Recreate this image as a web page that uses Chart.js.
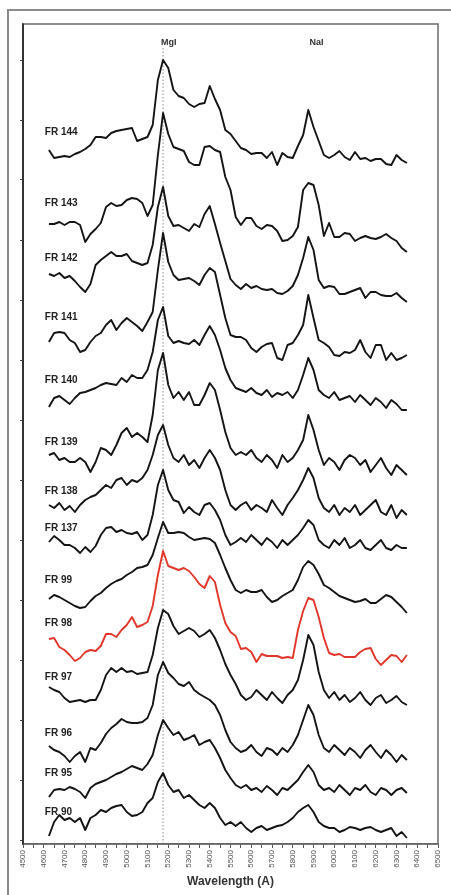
<!DOCTYPE html>
<html>
<head>
<meta charset="utf-8">
<script src="https://cdn.jsdelivr.net/npm/chart.js@4.4.0/dist/chart.umd.min.js"></script>
<style>
  html, body { margin: 0; padding: 0; background: #fff; overflow: hidden; }
  #marco { position: absolute; left: 7px; top: 9px; width: 470px; height: 910px; border: 2px solid #8a8a8a; box-sizing: border-box; }
  #contenedor { position: absolute; left: 0; top: 0; width: 451px; height: 895px; }
</style>
</head>
<body>
<div id="marco"></div>
<div id="contenedor"><canvas id="chartEspectros" width="451" height="895"></canvas></div>
<script>
// Longitudes de onda (Å) comunes a todos los espectros
const longitudes = [4625,4650,4675,4700,4725,4750,4775,4800,4825,4850,4875,4900,4925,4950,4975,5000,5025,5050,5075,5100,5125,5150,5175,5200,5225,5250,5275,5300,5325,5350,5375,5400,5425,5450,5475,5500,5525,5550,5575,5600,5625,5650,5675,5700,5725,5750,5775,5800,5825,5850,5875,5900,5925,5950,5975,6000,6025,6050,6075,6100,6125,6150,6175,6200,6225,6250,6275,6300,6325,6350];

// Flujo (unidades arbitrarias, ya desplazado) de cada espectro
const fr144 = [690,682,683,684,683,686,688,691,695,703,703,702,707,709,710,711,712,699,701,703,715,760,780,772,750,744,742,736,733,736,737,754,741,730,710,706,699,692,690,686,687,687,682,688,675,687,683,682,694,705,730,713,699,685,682,685,689,683,680,688,681,682,679,681,681,676,675,685,680,677];
const fr143 = [616,616,618,615,618,618,615,598,606,611,617,633,637,634,635,640,642,641,637,624,635,685,727,706,693,691,689,678,675,675,693,694,690,688,663,650,623,615,622,622,614,611,615,614,609,599,600,604,613,650,657,655,635,604,617,603,603,607,606,599,602,604,602,601,603,606,602,599,592,588];
const fr142 = [566,564,567,562,564,559,553,548,556,575,580,584,588,584,584,586,579,577,575,577,595,633,653,624,614,615,612,609,616,613,626,634,616,597,579,561,555,551,556,552,554,551,550,551,547,546,549,554,565,582,603,590,560,552,554,553,546,546,548,550,552,542,548,548,545,544,544,547,542,538];
const fr141 = [498,507,508,507,500,497,488,490,498,504,507,515,520,510,517,522,518,514,509,518,528,570,607,578,565,560,561,562,559,555,565,572,568,545,522,505,503,503,500,492,488,493,496,497,482,480,495,497,505,515,545,522,500,497,493,485,484,488,487,490,500,488,482,495,495,480,487,480,482,485];
const fr140 = [433,442,444,440,436,442,447,448,450,452,455,457,456,455,462,458,465,462,462,470,488,520,533,504,497,499,497,496,500,495,505,514,505,490,472,460,452,450,448,452,447,445,450,443,447,445,448,442,450,465,482,470,450,445,442,448,440,442,444,438,445,440,435,442,438,432,440,436,430,430];
const fr139 = [385,387,380,382,378,378,382,378,368,378,392,390,385,395,407,412,403,407,403,398,425,470,487,455,442,448,440,448,435,435,445,457,450,430,408,392,385,388,385,390,382,378,385,380,372,385,378,382,390,400,425,410,390,375,382,378,370,380,385,382,375,380,368,375,382,372,365,375,370,365];
const fr138 = [335,332,337,330,334,328,335,340,343,345,350,355,352,360,362,355,360,358,362,370,385,405,415,395,382,378,385,375,380,372,382,390,382,370,350,335,330,335,338,330,335,332,328,340,332,325,335,342,350,360,372,362,342,332,328,335,325,332,328,335,325,330,335,340,328,325,335,322,330,325];
const fr137 = [298,304,300,295,295,292,287,293,288,294,305,312,313,308,310,307,306,308,300,305,325,355,370,350,340,338,327,333,328,325,335,337,330,320,305,295,298,302,298,305,300,295,302,298,292,300,295,300,305,312,320,315,300,295,292,300,295,302,292,295,300,292,290,295,300,292,290,295,292,292];
const fr99 = [241,245,243,240,237,234,232,233,239,244,247,252,256,259,261,265,268,272,273,275,285,302,318,307,307,308,307,303,300,301,302,301,297,285,272,260,250,247,250,248,248,250,243,238,240,244,247,250,260,273,279,275,266,255,252,248,244,242,240,238,239,241,237,237,241,245,243,238,233,227];
const fr98 = [201,202,193,190,185,179,182,188,190,189,194,206,206,203,210,215,223,213,215,218,234,265,289,274,272,270,272,269,263,256,252,264,258,235,217,208,204,191,192,188,178,186,184,184,184,182,183,182,210,229,242,240,223,202,187,185,186,183,183,183,188,191,192,181,175,180,185,184,178,185];
const fr97 = [153,150,148,142,138,139,140,138,140,140,150,165,172,168,172,168,169,166,167,168,185,212,230,226,214,206,209,212,209,203,206,210,202,190,176,165,156,145,140,143,150,145,140,148,142,137,145,150,160,180,205,195,168,150,142,148,140,145,138,142,148,140,135,142,145,137,140,144,138,135];
const fr96 = [94,90,88,84,78,84,88,78,92,90,97,106,112,116,121,118,117,117,118,122,135,165,178,167,162,156,154,158,150,146,143,140,135,125,110,98,92,88,90,95,88,84,92,90,85,92,88,95,105,120,135,125,105,92,88,95,90,85,92,88,82,90,95,88,82,90,85,78,85,80];
const fr95 = [43,50,51,50,53,51,48,42,52,56,58,60,63,66,68,71,74,72,70,76,85,105,120,112,105,108,100,102,105,95,98,100,92,82,70,62,55,52,55,50,52,48,54,50,45,52,50,55,60,68,75,68,55,50,52,48,55,50,45,52,50,55,48,45,52,50,45,50,52,47];
const fr90 = [4,18,25,20,22,18,22,10,22,25,30,28,32,34,35,28,24,25,28,37,42,58,67,55,48,50,42,45,40,35,32,37,32,22,15,18,14,18,12,8,12,14,10,12,14,15,18,22,28,32,35,28,18,14,12,12,8,10,13,12,10,12,13,10,8,10,12,4,8,2];

const nombres = ["FR 144","FR 143","FR 142","FR 141","FR 140","FR 139","FR 138","FR 137","FR 99","FR 98","FR 97","FR 96","FR 95","FR 90"];
const espectros = [fr144, fr143, fr142, fr141, fr140, fr139, fr138, fr137, fr99, fr98, fr97, fr96, fr95, fr90];
// Nivel de flujo donde va el nombre de cada espectro
const nivelNombre = [708,637,582,523,460,398,349,312,260,217,163,107,67,28];

// Líneas identificadas
const lineas = ["MgI", "NaI"];
const lineasLongitud = [5175, 5890];

const fuente = '"Liberation Sans", Arial, sans-serif';

const datasets = espectros.map((serie, i) => ({
  label: nombres[i],
  data: serie.map((v, j) => ({ x: longitudes[j], y: v })),
  borderColor: nombres[i] === "FR 98" ? "#e2362b" : "#141414",
  borderWidth: 1.9,
  pointRadius: 0,
  tension: 0,
  borderJoinStyle: "round"
}));

// Línea punteada en MgI
datasets.push({
  label: "MgI",
  data: [{ x: lineasLongitud[0], y: -4 }, { x: lineasLongitud[0], y: 793 }],
  borderColor: "#8c8c8c",
  borderWidth: 1,
  borderDash: [1.5, 2],
  pointRadius: 0
});

const rotulos = {
  id: "rotulos",
  afterDatasetsDraw(chart) {
    const { ctx, chartArea, scales } = chart;
    ctx.save();
    // marco del área de la gráfica
    ctx.strokeStyle = "#6a6a6a";
    ctx.lineWidth = 1.5;
    ctx.strokeRect(chartArea.left, chartArea.top, chartArea.right - chartArea.left, chartArea.bottom - chartArea.top);
    ctx.strokeStyle = "#333";
    ctx.lineWidth = 2;
    ctx.beginPath();
    ctx.moveTo(chartArea.left, chartArea.top);
    ctx.lineTo(chartArea.left, chartArea.bottom);
    ctx.stroke();

    ctx.fillStyle = "#222";
    ctx.textBaseline = "middle";
    ctx.textAlign = "left";
    ctx.font = "bold 10px " + fuente;
    nombres.forEach((n, i) => {
      ctx.fillText(n, scales.x.getPixelForValue(4605), scales.y.getPixelForValue(nivelNombre[i]));
    });

    ctx.font = "bold 9px " + fuente;
    ctx.fillStyle = "#333";
    lineas.forEach((l, i) => {
      ctx.fillText(l, scales.x.getPixelForValue(lineasLongitud[i]) - 2, chartArea.top + 19);
    });
    ctx.restore();
  }
};

new Chart(document.getElementById("chartEspectros"), {
  type: "line",
  data: { datasets },
  options: {
    responsive: false,
    animation: false,
    devicePixelRatio: 1,
    layout: { padding: { left: 20, right: 13, top: 24, bottom: 2 } },
    plugins: {
      legend: { display: false },
      tooltip: { enabled: false }
    },
    scales: {
      x: {
        type: "linear",
        min: 4500,
        max: 6500,
        afterFit: (scale) => { scale.height = 49; },
        ticks: {
          stepSize: 50,
          autoSkip: false,
          minRotation: 90,
          maxRotation: 90,
          padding: 2,
          color: "#555",
          font: { family: fuente, size: 8 },
          callback: (v) => (v % 100 === 0 ? String(v) : "")
        },
        grid: { drawOnChartArea: false, tickLength: 4, color: "#555" },
        border: { display: true, color: "#555", width: 1.5 },
        title: {
          display: true,
          text: "Wavelength (A)",
          color: "#333",
          font: { family: fuente, size: 12, weight: "bold" },
          padding: { top: 4, bottom: 4 }
        }
      },
      y: {
        min: -4,
        max: 816,
        afterBuildTicks: (axis) => {
          const marcas = [];
          for (let v = 0; v <= 780; v += 60) marcas.push({ value: v });
          axis.ticks = marcas;
        },
        ticks: { display: false },
        grid: { drawOnChartArea: false, tickLength: 3, color: "#444" },
        border: { display: true, color: "#333", width: 2 }
      }
    }
  },
  plugins: [rotulos]
});
</script>
</body>
</html>
